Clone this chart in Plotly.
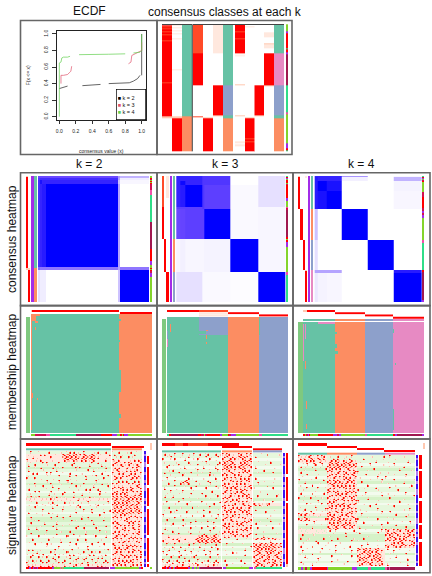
import numpy as np
import plotly.graph_objects as go

W, H = 432, 576

# ---------- ECDF values ----------
ECDF_K2_X = [0.0, 0.03, 0.06, 0.1, None, 0.28, 0.38, 0.4, 0.5, None, 0.6, 0.85, 0.9, 0.95, 0.98, None, 1.0, 1.0, 1.0]
ECDF_K2_Y = [0.34, 0.35, 0.36, 0.37, None, 0.375, 0.38, 0.39, 0.39, None, 0.4, 0.41, 0.43, 0.46, 0.5, None, 0.5, 0.8, 1.0]
ECDF_K3_X = [0.02, 0.02, 0.05, 0.1, 0.12, 0.14, 0.15, None, 0.84, 0.87, 0.88, 0.92, 0.96, 1.0, 1.0]
ECDF_K3_Y = [0.4, 0.5, 0.5, 0.51, 0.53, 0.55, 0.61, None, 0.64, 0.66, 0.74, 0.76, 0.78, 0.8, 0.9]
ECDF_K4_X = [0.0, 0.0, 0.02, 0.03, 0.05, 0.1, 0.13, None, 0.24, 0.4, 0.6, 0.8, None, 0.9, 0.98, 1.0, 1.0]
ECDF_K4_Y = [0.0, 0.65, 0.66, 0.71, 0.72, 0.72, 0.73, None, 0.75, 0.75, 0.755, 0.76, None, 0.77, 0.78, 0.8, 1.0]

# ---------- colours ----------
PAL = {
    "w": "#FFFFFF", "rd": "#FF0000", "or": "#FF4A28", "pc": "#FFC8B0", "lp": "#FFE8DE",
    "te": "#66C2A5", "og": "#FC8D62", "bl": "#8DA0CB", "pi": "#E78AC3",
    "pu": "#A32CE8", "lg": "#84D42C", "sg": "#2FDD88", "cr": "#D01050", "dc": "#A01850",
    "pk": "#F050A8", "mg": "#7FC97F", "sb": "#3A14F0", "sv": "#B080F0", "dk": "#444444",
    "s.": "#E6F7DC", "s,": "#F3FBEE", "sg2": "#D6F2C8", "sp": "#FFBFAE", "so": "#FF6E50", "sr": "#FF0000",
    "sw": "#FFFFFF", "sq": "#FFE8DE",
}
KEYS = list(PAL)
IDX = {k: i for i, k in enumerate(KEYS)}
STEP = []
for i, k in enumerate(KEYS):
    STEP += [[i / len(KEYS), PAL[k]], [(i + 1) / len(KEYS), PAL[k]]]

# ---------- consensus classes at each k ----------
CC_K2_1 = [("w",1),("rd",1),("or",1),("rd",1),("or",1),("rd",2),("or",1),("rd",2),("or",1),("rd",5),("or",1),("rd",41),("or",1),("rd",33),("pc",2),("w",33)]
CC_K2_2 = [("pc",1),("w",2),("lp",1),("w",2),("lp",1),("w",2),("lp",1),("w",4),("lp",1),("w",30),("lp",1),("w",47),("pc",2),("rd",33)]
CC_K2_C = [("te",92),("og",35)]
CC_K3_1 = [("or",29),("rd",32),("w",31),("or",1),("w",34)]
CC_K3_2 = [("w",93),("pc",1),("rd",33)]
CC_K3_3 = [("lp",29),("w",32),("rd",30),("pc",1),("w",35)]
CC_K3_C = [("te",61),("bl",30),("te",3),("og",33)]
CC_K4_1 = [("rd",7),("or",1),("rd",6),("or",1),("rd",14),("lp",1),("w",1),("lp",1),("w",28),("pc",1),("w",30),("pc",1),("w",25),("lp",2),("w",1),("lp",2),("w",5)]
CC_K4_2 = [("w",2),("lp",1),("w",90),("pc",1),("rd",20),("or",1),("rd",2),("or",1),("rd",9)]
CC_K4_3 = [("w",61),("rd",30),("pc",1),("w",35)]
CC_K4_4 = [("w",8),("lp",5),("w",6),("pc",1),("lp",4),("w",5),("rd",32),("pc",1),("w",65)]
CC_K4_C = [("te",29),("pi",32),("bl",30),("te",3),("og",33)]
CC_SIDE = [("lg",7),("pu",2),("rd",15),("sg",1),("rd",3),("pu",2),("dc",30),("sg",27),("pk",2),("lg",28),("pu",5),("rd",2),("sg",1)]

# ---------- consensus heatmaps: block edges (samples) and values ----------
CH2_X = [0, 2, 4, 8, 81, 83, 112]
CH2_Y = [0, 2, 4, 8, 91, 94, 126]
CH2_Z = [[.6,.6,.6,.6,.35,.25],[.7,.75,.75,.75,.3,.06],[.75,.9,.8,.8,.2,.03],[.75,.8,.85,1,.3,0],[.5,.45,.45,.45,.3,.45],[.1,.06,.06,0,.2,1]]
CH3_X = [0, 4, 9, 26, 28, 54, 82, 109]
CH3_Y = [0, 5, 9, 31, 33, 63, 96, 126]
CH3_Z = [[.8,.8,.8,.7,.7,0,.1],[.8,.95,.8,.7,.7,0,.1],[.8,.85,1,.7,.65,.02,.1],[.65,.65,.65,.7,.65,.02,.03],[.6,.62,.65,.65,1,.02,.03],[.03,.05,.03,.03,.04,1,.03],[.1,.1,.1,.02,.02,.01,1]]
CH4_X = [0, 3, 12, 27, 53, 79, 106]
CH4_Y = [0, 1, 5, 15, 33, 64, 94, 97, 126]
CH4_Z = [[.8,.8,.8,.35,0,.03],[.85,.8,.8,.05,0,.25],[.85,1,.9,0,0,.04],[.85,.9,1,0,0,.03],[.2,0,0,1,0,0],[.1,0,0,0,1,0],[.3,.3,.3,0,0,.85],[.08,.04,.03,0,0,1]]
CH2_L1 = [("pc",1),("rd",91),("pc",2),("w",32)]
CH2_L2 = [("w",92),("pc",2),("rd",32)]
CH2_C = [("te",92),("og",34)]
CH3_L1 = [("or",31),("rd",32),("w",63)]
CH3_L2 = [("w",63),("rd",33),("w",30)]
CH3_L3 = [("lp",22),("w",74),("rd",30)]
CH3_C = [("te",63),("og",33),("bl",30)]
CH4_L1 = [("pc",1),("rd",32),("w",93)]
CH4_L2 = [("w",33),("rd",31),("w",62)]
CH4_L3 = [("w",64),("rd",30),("w",32)]
CH4_L4 = [("lp",2),("w",92),("pc",1),("rd",31)]
CH4_C = [("te",33),("og",31),("bl",30),("pi",32)]
CH2_S = [("lg",2),("rd",1),("cr",1),("lg",1),("rd",1),("lg",1),("rd",1),("cr",6),("pk",5),("sg",27),("dc",26),("rd",12),("pu",4),("lg",3),("rd",1),("lg",1),("rd",1),("cr",2),("pu",4),("lg",25)]
CH3_S = [("sg",1),("rd",1),("pu",1),("lg",1),("rd",3),("lg",1),("cr",1),("rd",13),("pu",3),("lg",6),("pk",1),("cr",2),("dc",27),("rd",2),("lg",1),("rd",2),("pu",5),("lg",25),("pk",3),("sg",27)]
CH4_S = [("sg",1),("rd",1),("pu",1),("lg",1),("cr",1),("rd",1),("lg",1),("lg",9),("cr",5),("rd",11),("cr",3),("pu",2),("cr",2),("pu",3),("lg",23),("pk",3),("sg",27),("rd",2),("dc",28),("pu",2)]

# ---------- membership heatmaps: sample-class columns and reassigned patches ----------
MB2_COLS = [("te",88),("og",33)]
MB2_PATCH = [(0,5,0,7,"og"),(5,9,0,2,"og"),(4,7,7,9,"og"),(4,5,13,16,"og"),(0,1,7,116,"og"),(0,2,79,84,"og"),(6,7,84,86,"og"),
             (88,90,5,7,"te"),(88,89,26,28,"te"),(88,90,56,63,"te"),(88,90,63,78,"te"),(88,90,100,104,"te")]
MB3_COLS = [("te",61),("og",31),("bl",29)]
MB3_PATCH = [(32,61,0,18,"bl"),(32,39,14,17,"te"),(39,41,13,14,"og"),(0,1,14,22,"bl"),(3,4,7,15,"og"),(0,1,22,30,"pi"),(39,40,18,22,"og"),(39,40,25,27,"og"),(92,93,0,18,"te")]
MB4_COLS = [("te",32),("og",30),("bl",28),("pi",31)]
MB4_PATCH = [(0,32,0,3,"te"),(15,32,3,5,"pi"),(0,1,5,42,"pi"),(2,3,5,20,"pi"),(2,3,42,50,"og"),(32,34,13,15,"te"),(32,34,25,29,"te"),(32,35,32,35,"te"),
             (90,91,10,14,"te"),(90,91,108,111,"te"),(3,4,82,90,"og"),(92,93,44,46,"te"),(90,91,90,111,"te"),(62,90,0,3,"bl"),(90,121,0,3,"pi"),(32,62,0,3,"og"),(3,4,105,110,"og")]
MB2_TOP = [[("pc",1),("rd",87),("w",33)], [("w",89),("rd",32)]]
MB3_TOP = [[("rd",32),("or",29),("w",60)], [("w",32),("lp",29),("rd",31),("w",29)], [("w",32),("lp",29),("w",31),("rd",29)]]
MB4_TOP = [[("pc",4),("rd",28),("w",89)], [("w",32),("rd",30),("w",59)], [("w",62),("rd",28),("w",31)], [("w",90),("rd",31)]]
MB2_BOT = [("lg",4),("cr",4),("cr",7),("pk",4),("sg",26),("dc",25),("rd",11),("pu",5),("lg",3),("rd",2),("lg",1),("rd",1),("pu",4),("lg",24)]
MB3_BOT = [("sg",2),("rd",2),("dc",27),("rd",3),("cr",3),("lg",1),("cr",2),("rd",13),("pu",2),("lg",6),("rd",1),("cr",2),("pu",5),("lg",23),("pk",3),("sg",26)]
MB4_BOT = [("rd",2),("lg",1),("cr",2),("pu",1),("rd",1),("lg",8),("rd",15),("pu",4),("cr",2),("pu",2),("lg",24),("pk",2),("sg",26),("rd",2),("pu",2),("dc",25),("pu",2)]

# ---------- signature heatmaps (p pale, o mid, r red; others = row tint) ----------
SG2_BG = "...,..g.,...g..,.g..,..,.gg.g.gg,..,,..,...,"
SG2 = [
"..r...p....r.....p..pr.r.p..r....p.r...r..|p..r...p.r..p..",
".p.....r.r....p...rrorprrpr.rr.orrp.p....r|.r...p.....r...",
"...r.p......r.....orrrrorrprrrorrrpr...p..|..p.r...r.p....",
"r....p.r.....p....prrporrp.rorpprr.....r..|rp.r.....p.r.rp",
"..p.....r.r.....r...p..r....p...r..r......|.rr.p.r.rr.p..r",
".r..r.....p...r.......r..p.....r.....r.p..|r.p.rrp.r.p.rr.",
"....p..r.....r..p.r.....r.r........p...r..|.r.r...rp.r.r.p",
".r......p......r........p.....r..r.....p..|p.rr.p.r.r.rr..",
"...r.r....r.r.....p..r.....p.........r....|r..r.rp..r.r..r",
".p........p.....r....r..r....r..p.r.....r.|.r.p.r.rr.pr.r.",
"r...r..p.....p.......p.......r.....p..r...|.rr.r..p.rr.r.p",
"..........r.....r...r...p.........r.......|p..r.r.r...r.r.",
".p..r.......r....p....r.....r....p...r..p.|r.r.p...r.rp.r.",
"....p...r....r.......p..r.p......r......r.|.r.r.r.p.r..rr.",
".r........p.....r........p...r.r...r......|r.p.rr.r.rr.p.r",
"....r.r.....r......r...r.......p....r..p..|.rr..r.rp.r.r.r",
"..p........r..p...r....p...r........r.....|rpr.r.rr.p.r.rr",
"p.r.ppr.....pp.r.p.p...r.....p.r.p..p.....|rorprorrprorpor",
"ppp.p..pp.p.rppp.p..pp...rp.pp.p...pp.p.p.|orrporprrorprpr",
"..p..r.....p.r.....r.p.p...p..r.........r.|prorprorrpoprro",
".p...p..pp..p.pr.....p...r.....p..pr..p...|rorpororprrorpp",
"....r........r....p.....p.r.......p.......|prrorpprorprrop",
"..p.....r.........r.....p...r...r.....p..r|orprorrporporrp",
".r...p.....r.p..........r.......r.....r...|rprporprrorporr",
"........p......r.....r.....p........r.....|.rp.r.r.pr.r.p.",
"..r.........r.....r........r..r.......p...|r.r.r..rr.p.r.r",
"....p.r........p......r.p.......r.....r...|.r..p.rr.r.r.r.",
"..r......r.....r.....p.......p...r........|r.rr.p..r.rp.r.",
".......p.....r....p......r.........p...r..|.rp.r.r.r.r..rp",
".r...r.........r........r...r.....r.......|p.r..rr.p.rr.r.",
"......p...r......p...r.......p......r..p..|.r.rp.r.r..p.r.",
"..r......p.....r.......r.....r...p........|r..r.r.rp.r.rr.",
"p.....r......p......r.....p.......r....r..|.rr.p.r..r.r.p.",
"...r.......r.....p.......r...r.......p....|r.r.r..pr.r.r.r",
".p.....p.........r...r.......p.....r......|.p.r.rr.r.p.rr.",
"....r.....r.p........p..r.......r.....r...|rr.p.r.r.r.r.p.",
"..........p.....r........p....r.....p.....|.r.r.p.rr.r.r.r",
".r.r...p......r...p...r.......r.......p.r.|p.r.r.r.p.rr.r.",
"...p.r......r.p.....r....p..r...r.p.r.....|.rr.r.p.r.r.p.r",
"p..r..p.r..p..r.p.p..r.r..p...pr.r...p.r..|r.p.rr.r.r.rp.r",
"..r...r.p.r..r..r...pr...r.p.r...p.r.r...p|.r.r.pr.r.p.r.r",
".p.r.p.r...r..rp...r...pr...r...r..p...r..|rp.r.r.r.rr.r.p",
"r...p...r.r..p..r.r..r...p.r..r...r.p.r.r.|.r.rp.r.r.r.p.r",
"pr.rp..r.p.r.r.p...r.p.rr.p...r.p..r.r.p..|r.r.r.rp.rr.r.r",
]
SG3_BG = "..,..,.g.,..g,...g,.g..,.g.,..g..,g,.,,g.,."
SG3 = [
".r.p..r...r..p..r..r..pr...r.p|rprr.p..rrp.rpr|....p..r.....p.",
"..p.r....p...r.....p..r..p..r.|.rrp.r.prrorr.p|.r.............",
"r...p.r....r....p.r.....r..p..|rp.rr.r.p.rr.rr|.......p.......",
".p.....p.....r.p....p.r......r|orrprrp..rorrpr|..p......r.....",
"...r.p..r.....p...r.....p...r.|rrorrpr.prrorrp|......p.......p",
"..r......p.r.....p...r.....r..|prrorpr.rrorp.r|.r.........p...",
"...p.r......p.....r.....p...r.|r.rrp.r.p.rr.r.|.....r........",
".r......r..p..r.....p...r.....|.rp.rr..r.r.rp.|..p.......r....",
"....p.....r.......p.....r.p...|r.r.p.r.rr.p.rr|.......p.......",
"..r...p......r.p.....p.....r..|.rr.r.rp.r.r.r.|.r.........p...",
"p.....r..p.rrp...r.....r...p..|r.p.rr.r.rp.rr.|.....p.........",
"...r.....rrprr.....p....r.....|.r.r.p.r.r.r.p.|..r.......p....",
"..p...r....p.....r.....p...r..|rr.p.r.r.p.r.rr|.......r.......",
".r.....p......r.......r.....p.|p.r.r.rr.r.rp.r|p.........r....",
"....r.....r.....p........r....|.rr.rp.r.rr.r.p|...p...........",
"..p.....p.....r.....r......p..|r.p.r.r.p.rr.r.|.......r.....p.",
".r...r.......p........r.....r.|.r.rr.p.r.r.rr.|..r.........r..",
"....p.....r.......p.....p.....|r.rp.r.rr.p.r.r|.....p.........",
"..r.....r.....p.....r........r|prr.r.p.r.r.rp.|p.........r....",
"p.....p.....r.........p...r...|.r.r.rr.p.rr.r.|rrprp.prr.....",
"...r.....p.....r..p.....r.....|rr.p.r.r.r.p.rr|....p.........",
".p.....r.....p.......r......p.|.r.rr.p.rr.r.r.|.r.........p...",
"....r.p.....r.....p.....r.....|p.r.r.r.p.r.rr.|......r.......",
"r........p.....r.....r...p..r.|r.rp.rr.r.p.r.r|.........p....",
"...p..r.....p.......p......r..|.rr.r.p.r.rr.p.|p......r......",
"..r.......r......r.....r.p....|r.p.rr.r.p.r.rr|...p.....r....",
".p...r.....p..r.....p.....r...|.r.r.p.r.rr.r.p|.r...........p",
"....p.....r......p.....r...p..|rr.r.r.pr.r.p.r|......p.......",
".r......p.....r.....r.....r...|p.rr.p.r.r.rr.r|..r.......r...",
"..p..r.......p.....p....r....p|.r.r.r.rp.r.r.p|.....p........",
"r.....p.r.....r......r.....r..|r.p.rr.r.r.p.rr|.r..........p.",
"...r.....p.....p..prrprrporrp.|.r.rp.r.p.r.r..|.....r.p......",
".p...r.rp..r.....rrorrprorrrpr|..p....r....p..|prrprrppr.rrpp",
"r..p....r....p...prrrorrprrorr|.....p.........|...p.....r....",
"..r.p.r...p..r..r..p..r.p..r..|..r.......p....|rrprrorrprrorpr",
".p...r...r...p.....r.....r.p..|.....p........r|rorrprrprorrprr",
"...r..p....r....p....r.p....r.|.p.........r...|prrorpr.rrorpp.",
"r.p.....r.....r...p.....r.....|.....r.p.......|r.rrp.rrorrp.rr",
"..r..p...r..p....r....r.p...r.|..p........r...|.rrpor.rrp.rr.p",
".p..r...r..r..p.r..p....r...p.|.......p.......|rp.rr.prr.p.rrp",
"r..r.p.r...p.r....r..p.r...r..|.r.......r.....|.rrp.rr.r.rr.pr",
"p.r..r..r.r..p.r.r..r...p.r.r.|.....p.....r...|rprr.p.rr.rrp.r",
".r.rp..r.pr..r..p.r...pr..r.p.|..r......p.....|.rr.rr.p.rr.r.r",
]
SG4_BG = "...,.g..,.g,..,.g.,..,.g.,.g,.ggg,,,,g,,.,"
SG4 = [
"rp.pprr.p.r.rr.|.p...r...p..r..|.......p.....r|..r......p.....",
".rpr.prrp.rrpr.|...r.r..p..r...|...r.........p|.....p.........",
"r.p.rprpr..rp.p|.rrprrp.rr.rr.p|.p.......r....|.p.........r...",
"..p.r...rr..r..|prrorrprrorrprr|......r......p|....r.......p..",
".r.p...r...p...|rrprorrprrporpr|..r..........|..p......r.....",
"...p.....r....r|.rr.r.r.p.rr.r.|.....p..r....|.......r.....p.",
".r.....p.......|r.rp.rr.rr.p.rr|r..........p.|.p.............",
"....r.....p....|.rr.r.p.r.r.rr.|....r.....p..|....p.....r....",
"..p......r.....|rp.rr.r.rr.r.pr|.p........r..|r.........p....",
"r.....p......r.|.r.r.rp.r.rr.r.|......p.....r|....r.........p",
"...r.......p...|rrprrorrprr.rr.|..r.........p|.p.......r.....",
".p.....r.......|p.rr.r.rpr.r.rp|.....r.......|.....p.......r.",
"....r.....r...p|.r.rp.r.rr.r.r.|...p.....r...|..r.........p..",
"..p......p.....|rr.r.r.p.r.rpr.|r.........p..|......r........",
".r.....r.....r.|r.p.rr.r.rr.r.r|....r.......p|.p........r....",
"...p.....p.....|.rr.r.rp.r.r.rr|..p.........r|....p.........r",
"r.....r.....p..|rp.r.r.rr.p.rr.|.....r.......|..r......p.....",
"..p.......r....|.r.rr.p.r.r.r.r|r.........p..|.......r.......",
"....r.p.....r..|r.rp.r.rrp.r.rr|...p.....r...|.p.........p...",
".p.......r.....|prr.r.r.r.rr.p.|......r......|....r..........",
"...r.....p....r|r.r.rp.rr.r.r.r|.p........r..|.........p..r..",
"..p...r.....p..|.rp.rr.r.p.rr.r|....p.......r|..r............",
"rrprrp..r..p...|rr.r.p.r.rr.r.p|..r.........p|.....r.....p...",
"...r......p....|r.rr.rr.p.r.rr.|.....p.......|.p........r....",
"rrprrr...p....r|rorrprrorrprp.r|r.........r..|....p..........",
"..p.....r......|.r.r.rrp.r.r.pr|...r.........|.r......p...r..",
"....r.......p..|p.rr.rprrorrpr.|.......p....r|.....r.........",
".p.....r.......|rrporrp.rr.rrp.|.r..........p|...p......r....",
"gg.gg.gg.g..gg.|.rp.r.....p..r.|....p.......r|rrp.rprrp.rrprr",
"...gg..g.gg.g.g|...p.....r....p|.r........r..|pr.rrr.p.r.rr.p",
"..r.....p......|.p.......r.....|.....p.......|r.rrp.rr.rprr.r",
".r...p.......r.|.....r.......p.|...r.........|.rrprr.r.rr.p.r",
"....p....r.....|..r.........r..|p.........p..|r.r.rp.rr.r.rrp",
"..p.......r....|p.....p........|.....r.......|.p.rr.rprr.p.rr",
".r.....r......p|....r......r...|..r.......p..|rrp.rr.rrpr.r.r",
"....p.......r..|.p......p......|rrprrpr.prrp.|.r.....p.......",
"..r........p...|....r.......r..|rp.rrorrprr.r|....r.......p..",
".p.....r.......|.......p.......|.rrporrp.rrr.|..p.......r....",
"...r.......p...|..r.........r..|rr.rprr.rrorp|.....r.........",
"....p.....r....|.....p........|prrorp.rrorrp|..p........r...",
".r.......p.....|..r.......r....|r.prrr.r.pr.r|.......p.......",
"..p....r.......|........p......|.rr.p.rr.rprr|.r.........r...",
]

SG2_TOP = [[("rd",85),("w",33)], [("w",86),("rd",32)], [("te",85),("w",1),("og",30),("w",2)]]
SG2_BOT = [("rd",3),("pu",2),("rd",2),("pu",1),("cr",2),("pu",1),("rd",14),("pu",2),("lg",5),("pk",1),("lg",1),("pk",1),("lg",1),("sg",19),("dc",24),("w",1),("pu",4),("lg",23),("pu",2),("rd",2),("w",1)]
SG2_R1 = "bvbbvvbbvbbvbvvbbbvbvbbvvbbvbbbvbvvbbvbbvbvb"
SG2_R2 = "wwrrrwrrrrrrrwrrrrrrrwrrrrrrrrrrwrrrrrrrrrwr"
SG3_TOP = [[("rd",10),("or",6),("rd",4),("or",15),("rd",24),("w",33)], [("w",60),("rd",30),("w",30)], [("w",91),("rd",29)], [("te",59),("w",1),("og",30),("w",1),("bl",29)]]
SG3_BOT = [("rd",4),("pu",1),("rd",2),("pu",2),("rd",2),("lg",1),("pu",1),("rd",1),("cr",1),("rd",12),("pu",2),("lg",2),("pu",2),("lg",2),("pu",1),("lg",2),("pu",1),("dc",23),("w",1),("pu",3),("lg",23),("pu",4),("w",1),("pk",2),("sg",27)]
SG3_R1 = "bvbbvbbbvbbvbvbbbvbbvbbvbvbbbvbbvbbbvvbbvbb"
SG3_R2 = "rrrrrrrrwrrrrrrrrrwrrrrrrrrrrrrrrrrrrrrrrrp"
SG4_TOP = [[("rd",29),("w",89)], [("w",29),("rd",30),("w",59)], [("w",59),("rd",28),("w",31)], [("w",87),("rd",31)], [("te",29),("og",30),("w",1),("bl",28),("pi",30)]]
SG4_BOT = [("lg",3),("pu",2),("lg",2),("cr",2),("lg",3),("pu",2),("rd",15),("pu",1),("lg",24),("pu",5),("pk",1),("sg",11),("pk",3),("sg",14),("pk",2),("dc",2),("pk",1),("dc",25)]
SG4_R1 = "bvbbvbvvbbvbbvvbbbvbbvbbvvbbvbvbbvbbbvbbvb"
SG4_R2 = "rrrrrwrrrrrrrrrrwrrrrrrrrwrrrrrwrrrrrrrrr"

# ---------- figure ----------
fig = go.Figure()
panels = {}
layout = {}
def panel(name, L, R, T, B):
    n = len(panels) + 1
    panels[name] = n
    sx = "" if n == 1 else str(n)
    layout["xaxis" + sx] = dict(domain=[L / W, R / W], range=[L, R], anchor="y" + sx, visible=False, fixedrange=True)
    layout["yaxis" + sx] = dict(domain=[1 - B / H, 1 - T / H], range=[B, T], anchor="x" + sx, visible=False, fixedrange=True)
    return "x" + sx, "y" + sx

COLS = [20.5, 157, 293, 430]
ROWS = [172.7, 305.6, 439, 572.7]
ax = {}
ax["cc"] = panel("cc", 157, 292, 20.5, 154.5)
for ci, k in enumerate((2, 3, 4)):
    for ri, kind in enumerate(("ch", "mb", "sg")):
        ax[kind + str(k)] = panel(kind + str(k), COLS[ci], COLS[ci + 1], ROWS[ri], ROWS[ri + 1])

def cat_trace(a, x, y, z):
    fig.add_trace(go.Heatmap(x=x, y=y, z=z, xaxis=a[0], yaxis=a[1], colorscale=STEP, zmin=0, zmax=len(KEYS),
                             showscale=False, hoverinfo="skip"))

def vstrip(a, x0, x1, y0, y1, runs):
    c = np.cumsum([0] + [r[1] for r in runs]) / sum(r[1] for r in runs)
    y = y0 + (y1 - y0) * c
    cat_trace(a, [x0, x1], y, [[IDX[r[0]] + .5] for r in runs])

def hstrip(a, x0, x1, y0, y1, runs):
    c = np.cumsum([0] + [r[1] for r in runs]) / sum(r[1] for r in runs)
    x = x0 + (x1 - x0) * c
    cat_trace(a, x, [y0, y1], [[IDX[r[0]] + .5 for r in runs]])

# consensus classes
a = ax["cc"]
T_, B_ = 24.3, 151
for (x0, x1, runs) in [(162, 172, CC_K2_1), (172, 182, CC_K2_2), (182, 191.7, CC_K2_C),
                       (193, 203, CC_K3_1), (203, 213, CC_K3_2), (213, 223, CC_K3_3), (223, 233, CC_K3_C),
                       (235, 245, CC_K4_1), (245, 254.5, CC_K4_2), (254.5, 264, CC_K4_3), (264, 274, CC_K4_4), (274, 284, CC_K4_C),
                       (286, 288.3, CC_SIDE)]:
    vstrip(a, x0, x1, T_, B_, runs)
vstrip(a, 191.8, 193, T_, B_, [("dk", 1)])
hstrip(a, 162, 191.7, 24, 24.8, [("dk", 1)])
hstrip(a, 193, 284, 24, 24.8, [("dk", 1)])

# consensus heatmaps
BLUE = [[0, "#FFFFFF"], [.6, "#6A48FF"], [1, "#0000FF"]]
def blocks(a, x0, x1, y0, y1, ex, ey, z):
    ex, ey = np.array(ex, float), np.array(ey, float)
    fig.add_trace(go.Heatmap(x=x0 + (x1 - x0) * ex / ex[-1], y=y0 + (y1 - y0) * ey / ey[-1], z=z, xaxis=a[0], yaxis=a[1],
                             colorscale=BLUE, zmin=0, zmax=1, showscale=False, hoverinfo="skip"))

T_, B_ = 176, 302
a = ax["ch2"]
blocks(a, 38, 149, T_, B_, CH2_X, CH2_Y, CH2_Z)
vstrip(a, 26, 28, T_, B_, CH2_L1); vstrip(a, 28, 30, T_, B_, CH2_L2)
vstrip(a, 31, 33.6, T_, B_, [("pu", 1)]); vstrip(a, 34, 37, T_, B_, CH2_C); vstrip(a, 150, 152, T_, B_, CH2_S)
a = ax["ch3"]
blocks(a, 176.3, 285, T_, B_, CH3_X, CH3_Y, CH3_Z)
vstrip(a, 162, 164, T_, B_, CH3_L1); vstrip(a, 164, 166, T_, B_, CH3_L2); vstrip(a, 166, 168.7, T_, B_, CH3_L3)
vstrip(a, 170, 172, T_, B_, [("pu", 1)]); vstrip(a, 173, 175, T_, B_, CH3_C); vstrip(a, 286, 288, T_, B_, CH3_S)
a = ax["ch4"]
blocks(a, 314.7, 421.3, T_, B_, CH4_X, CH4_Y, CH4_Z)
vstrip(a, 298, 300, T_, B_, CH4_L1); vstrip(a, 300, 303, T_, B_, CH4_L2); vstrip(a, 303, 305, T_, B_, CH4_L3); vstrip(a, 305, 307, T_, B_, CH4_L4)
vstrip(a, 308, 310, T_, B_, [("pu", 1)]); vstrip(a, 311, 313, T_, B_, CH4_C); vstrip(a, 422, 424, T_, B_, CH4_S)

# membership
def member(a, x0, x1, y0, y1, cols, patches, rows):
    base = []
    for key, n in cols:
        base += [IDX[key] + .5] * n
    m = np.array([base] * rows, float)
    for c0, c1, r0, r1, key in patches:
        m[r0:min(r1, rows), c0:c1] = IDX[key] + .5
    cat_trace(a, x0 + (x1 - x0) * np.arange(len(base) + 1) / len(base), y0 + (y1 - y0) * np.arange(rows + 1) / rows, m)

a = ax["mb2"]
member(a, 31, 152, 314, 433.3, MB2_COLS, MB2_PATCH, 119)
vstrip(a, 26, 30, 317, 433.3, [("mg", 1)])
hstrip(a, 31, 152, 310, 312, MB2_TOP[0]); hstrip(a, 31, 152, 312, 314, MB2_TOP[1]); hstrip(a, 31, 152, 434, 436, MB2_BOT)
a = ax["mb3"]
member(a, 167, 288, 317, 433.3, MB3_COLS, MB3_PATCH, 116)
vstrip(a, 162, 166, 319, 433.3, [("mg", 1)])
for i, r in enumerate(MB3_TOP):
    hstrip(a, 167, 288, 310 + 2.2 * i, 312.2 + 2.2 * i, r)
hstrip(a, 167, 288, 434, 436, MB3_BOT)
a = ax["mb4"]
member(a, 303, 424, 319, 433.3, MB4_COLS, MB4_PATCH, 114)
vstrip(a, 298, 303, 322, 433.3, [("mg", 1)])
hstrip(a, 303, 424, 321, 322, [("w", 1)])
for i, r in enumerate(MB4_TOP):
    hstrip(a, 303, 424, 310 + 2.25 * i, 312.25 + 2.25 * i, r)
hstrip(a, 303, 424, 434, 436, MB4_BOT)

# signature: each typed cell is drawn as a 2x2 patch so single marks stay about 1 px wide, as in the reference
SIGMAP = {".": "s.", ",": "s,", "g": "sg2", "p": "sp", "o": "so", "r": "sr", "w": "sw", "q": "sq"}
def sigblock(a, xs, y0, y1, rows, bg):
    nb = len(xs) - 1
    nr = len(rows)
    parts = [r.split("|") for r in rows]
    for b in range(nb):
        w = max(len(p[b]) for p in parts)
        m = np.zeros((nr * 2, w * 2))
        for ri, p in enumerate(parts):
            s = p[b].ljust(w, ".")
            tint = IDX[SIGMAP[bg[ri]]] + .5
            # rows that are mostly marked carry a pale pink ground rather than the green tint
            if sum(c != "." for c in s) > 0.42 * w:
                tint = IDX["sq"] + .5
            m[ri * 2:ri * 2 + 2, :] = tint
            for ci, ch in enumerate(s):
                if ch == ".":
                    continue
                v = IDX[SIGMAP[ch]] + .5
                cx = ci * 2 + (ri + ci) % 2
                cy = ri * 2 + (ci % 2)
                m[cy, cx] = v
                nx = ci * 2 + 1 - (ri + ci) % 2
                oy = ri * 2 + 1 - (ci % 2)
                if ch == "r":
                    m[cy, nx] = IDX["so"] + .5
                    m[oy, cx] = IDX["sp"] + .5
                elif ch == "o":
                    m[cy, nx] = IDX["sp"] + .5
                elif ch == "p":
                    m[cy, nx] = IDX["sq"] + .5
        cat_trace(a, xs[b][0] + (xs[b][1] - xs[b][0]) * np.arange(w * 2 + 1) / (w * 2), y0 + (y1 - y0) * np.arange(nr * 2 + 1) / (nr * 2), m)

def sidechars(a, x0, x1, y0, y1, s, mp):
    n = len(s)
    cat_trace(a, [x0, x1], y0 + (y1 - y0) * np.arange(n + 1) / n, [[IDX[mp[c]] + .5] for c in s])

SIDE1 = {"b": "sb", "v": "sv"}
SIDE2 = {"r": "rd", "w": "w", "p": "pc"}

a = ax["sg2"]
sigblock(a, [(26, 111), (112, 142.3), None], 451, 566.7, SG2, SG2_BG)
for i, r in enumerate(SG2_TOP):
    hstrip(a, 26, 144, [443, 446, 448.3][i], [446, 448.3, 450.3][i], r)
hstrip(a, 26, 144, 567, 569.3, SG2_BOT)
sidechars(a, 144, 146, 451, 566.7, SG2_R1, SIDE1); sidechars(a, 147, 149, 451, 566.7, SG2_R2, SIDE2)
vstrip(a, 150, 152, 443, 450, [("pc", 1)]); vstrip(a, 150, 152, 567, 569.3, [("lg", 1)])
a = ax["sg3"]
sigblock(a, [(162, 221), (222, 252), (253, 282), None], 453, 566.7, SG3, SG3_BG)
for i, r in enumerate(SG3_TOP):
    hstrip(a, 162, 282, [443, 446, 448.3, 450.4][i], [446, 448.3, 450.4, 452.4][i], r)
hstrip(a, 162, 282, 567, 569.3, SG3_BOT)
sidechars(a, 283, 285, 453, 566.7, SG3_R1, SIDE1); sidechars(a, 286, 288, 453, 566.7, SG3_R2, SIDE2)
a = ax["sg4"]
sigblock(a, [(298, 327), (327, 357), (357, 385), (385, 415), None], 455, 566, SG4, SG4_BG)
for i, r in enumerate(SG4_TOP):
    y0s = [443, 446, 448, 450, 452.7]
    y1s = [446, 448, 450, 452, 455]
    hstrip(a, 298, 415, y0s[i], y1s[i], r)
hstrip(a, 298, 415, 567, 569.6, SG4_BOT)
sidechars(a, 416, 418, 455, 566, SG4_R1, SIDE1); sidechars(a, 419, 422, 455, 566, SG4_R2, SIDE2)
vstrip(a, 423, 425, 443, 449, [("pc", 1)])

# ECDF
n = len(panels) + 1
sx = str(n)
EL, ER, ET, EB = 56.7, 145.7, 31, 119.5
layout["xaxis" + sx] = dict(domain=[EL / W, ER / W], range=[-0.032, 1.049], anchor="y" + sx, tickvals=[0, .2, .4, .6, .8, 1],
                            ticktext=["0.0", "0.2", "0.4", "0.6", "0.8", "1.0"], ticks="outside", ticklen=4, tickwidth=.6, tickcolor="#333",
                            tickfont=dict(size=5, family="Liberation Sans", color="#222"), showgrid=False, zeroline=False, ticklabelstandoff=3,
                            showline=True, mirror=True, linecolor="#222", linewidth=.7, fixedrange=True,
                            title=dict(text="consensus value (x)", font=dict(size=5, family="Liberation Sans", color="#222"), standoff=16))
layout["yaxis" + sx] = dict(domain=[1 - EB / H, 1 - ET / H], range=[-0.034, 1.036], anchor="x" + sx, tickvals=[0, .2, .4, .6, .8, 1],
                            ticktext=["0.0", "0.2", "0.4", "0.6", "0.8", "1.0"], ticks="outside", ticklen=4, tickwidth=.6, tickcolor="#333",
                            tickangle=-90, tickfont=dict(size=5, family="Liberation Sans", color="#222"), showgrid=False, zeroline=False, ticklabelstandoff=2,
                            showline=True, mirror=True, linecolor="#222", linewidth=.7, fixedrange=True,
                            title=dict(text="F(x <= x)", font=dict(size=5, family="Liberation Sans", color="#222"), standoff=12))
for xs, ys, col in [(ECDF_K2_X, ECDF_K2_Y, "#222222"), (ECDF_K3_X, ECDF_K3_Y, "#DF536B"), (ECDF_K4_X, ECDF_K4_Y, "#61D04F")]:
    fig.add_trace(go.Scatter(x=xs, y=ys, mode="lines", line=dict(color=col, width=.7), xaxis="x" + sx, yaxis="y" + sx,
                             hoverinfo="skip", showlegend=False, connectgaps=False))

FONT = "Liberation Sans"
notes = []
def label(text, x, y, size=12, angle=0):
    notes.append(dict(text=text, x=x / W, y=1 - y / H, xref="paper", yref="paper", showarrow=False, xanchor="center", yanchor="middle",
                      font=dict(size=size, family=FONT, color="#111"), textangle=angle))
label("ECDF", 89, 11)
label("consensus classes at each k", 225, 11.5)
label("k = 2", 89, 164); label("k = 3", 225, 164); label("k = 4", 361, 164)
label("consensus heatmap", 12, 239, angle=-90)
label("membership heatmap", 12, 372, angle=-90)
label("signature heatmap", 12, 505, angle=-90)
notes.append(dict(text="<span style='color:#000'>■</span> k = 2<br><span style='color:#DF536B'>■</span> k = 3<br><span style='color:#61D04F'>■</span> k = 4",
                  x=ER / W, y=1 - EB / H, xref="paper", yref="paper", xanchor="right", yanchor="bottom", showarrow=False, align="left",
                  font=dict(size=5.5, family=FONT, color="#111"), bgcolor="#FFFFFF", bordercolor="#000", borderwidth=.7, borderpad=1, width=27, height=28))

shapes = []
def frame(L, T, R, B):
    shapes.append(dict(type="rect", xref="paper", yref="paper", x0=L / W, x1=R / W, y0=1 - B / H, y1=1 - T / H,
                       line=dict(color="#666666", width=1.6), layer="above"))
frame(20.5, 20.5, 157, 154.5); frame(157, 20.5, 292, 154.5)
for c in range(3):
    for r in range(3):
        frame(COLS[c], ROWS[r], COLS[c + 1], ROWS[r + 1])

fig.update_layout(width=W, height=H, margin=dict(l=0, r=0, t=0, b=0), plot_bgcolor="#FFFFFF", paper_bgcolor="#FFFFFF",
                  showlegend=False, annotations=notes, shapes=shapes, **layout)
fig.write_html("out.html", config=dict(displayModeBar=False),
               post_script="document.body.style.margin='0';document.documentElement.style.overflow='hidden';")
